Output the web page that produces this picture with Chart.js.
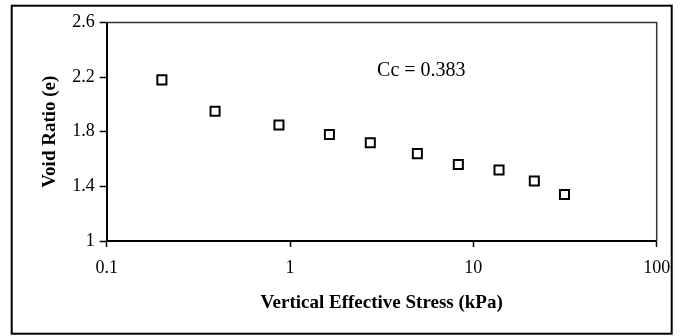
<!DOCTYPE html>
<html>
<head>
<meta charset="utf-8">
<script src="https://cdn.jsdelivr.net/npm/chart.js@4.4.1/dist/chart.umd.min.js"></script>
<style>
  html, body { margin: 0; padding: 0; background: #fff; }
  canvas { display: block; }
</style>
</head>
<body>
<canvas id="consolChart" width="684" height="336"></canvas>
<script>
// Consolidation test: void ratio vs vertical effective stress
const stress = [0.2, 0.39, 0.87, 1.64, 2.74, 4.95, 8.28, 13.8, 21.5, 31.4];
const voidRatio = [2.18, 1.95, 1.85, 1.78, 1.72, 1.64, 1.56, 1.52, 1.44, 1.34];

const xTicks = [0.1, 1, 10, 100];
const xTickLabels = ["0.1", "1", "10", "100"];
const yTicks = [1, 1.4, 1.8, 2.2, 2.6];
const yTickLabels = ["1", "1.4", "1.8", "2.2", "2.6"];

const noteText = "Cc = 0.383";
const noteAt = [5.2, 2.25];

const serif = "'Liberation Serif', 'Times New Roman', serif";

// outer frame + top/right plot border + the Cc label
const framePlugin = {
  id: "frame",
  afterDraw(chart) {
    const ctx = chart.ctx;
    const area = chart.chartArea;
    ctx.save();

    ctx.strokeStyle = "#000";
    ctx.lineWidth = 2;
    ctx.strokeRect(11.7, 5.7, 660, 328);

    ctx.strokeStyle = "#333";
    ctx.lineWidth = 1.5;
    ctx.beginPath();
    ctx.moveTo(area.left, area.top);
    ctx.lineTo(area.right, area.top);
    ctx.lineTo(area.right, area.bottom);
    ctx.stroke();

    const x = chart.scales.x.getPixelForValue(noteAt[0]);
    const y = chart.scales.y.getPixelForValue(noteAt[1]);
    ctx.fillStyle = "#000";
    ctx.font = "20px " + serif;
    ctx.textAlign = "center";
    ctx.textBaseline = "middle";
    ctx.fillText(noteText, x, y);

    ctx.restore();
  }
};

const points = stress.map(function(s, i) {
  return { x: s, y: voidRatio[i] };
});

const ctx = document.getElementById("consolChart").getContext("2d");

new Chart(ctx, {
  type: "scatter",
  data: {
    datasets: [
      {
        data: points,
        pointStyle: "rect",
        pointRadius: 6.4,
        pointHoverRadius: 6.4,
        pointBackgroundColor: "#fff",
        pointBorderColor: "#000",
        pointBorderWidth: 2
      }
    ]
  },
  options: {
    responsive: false,
    animation: false,
    devicePixelRatio: 1,
    layout: {
      padding: { left: 0, top: 22.5, right: 27.3, bottom: 0 }
    },
    plugins: {
      legend: { display: false },
      tooltip: { enabled: false }
    },
    scales: {
      x: {
        type: "logarithmic",
        min: 0.1,
        max: 100,
        afterBuildTicks: function(scale) {
          scale.ticks = xTicks.map(function(v) { return { value: v }; });
        },
        afterFit: function(scale) {
          scale.height = 95;
        },
        ticks: {
          color: "#000",
          padding: 10,
          font: { family: serif, size: 18 },
          callback: function(value, index) {
            return xTickLabels[index];
          }
        },
        grid: {
          drawOnChartArea: false,
          tickLength: 6,
          tickColor: "#000",
          tickWidth: 1.5
        },
        border: { color: "#000", width: 2 },
        title: {
          display: true,
          text: "Vertical Effective Stress (kPa)",
          color: "#000",
          padding: { top: 0, bottom: 22 },
          font: { family: serif, size: 19, weight: "bold" }
        }
      },
      y: {
        min: 1,
        max: 2.6,
        afterBuildTicks: function(scale) {
          scale.ticks = yTicks.map(function(v) { return { value: v }; });
        },
        afterFit: function(scale) {
          scale.width = 106.7;
        },
        ticks: {
          color: "#000",
          padding: 5,
          font: { family: serif, size: 18 },
          callback: function(value, index) {
            return yTickLabels[index];
          }
        },
        grid: {
          drawOnChartArea: false,
          tickLength: 7,
          tickColor: "#000",
          tickWidth: 1.5
        },
        border: { color: "#000", width: 2 },
        title: {
          display: true,
          text: "Void Ratio (e)",
          color: "#000",
          padding: { top: 38.6, bottom: 0 },
          font: { family: serif, size: 19, weight: "bold" }
        }
      }
    }
  },
  plugins: [framePlugin]
});
</script>
</body>
</html>
